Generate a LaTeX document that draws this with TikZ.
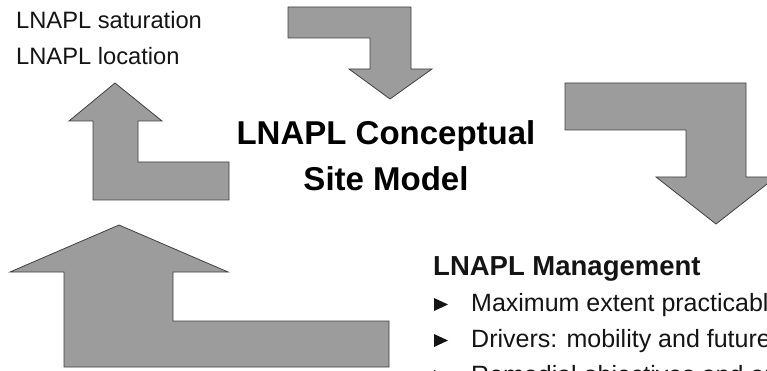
\documentclass[tikz,border=0pt]{standalone}
\usepackage{fontspec}
\setmainfont{Liberation Sans}

\begin{document}
\begin{tikzpicture}[x=1pt,y=-1pt,
	bent/.style={fill=black!39,draw=black!75,line width=0.8pt,line join=miter},
	lbl/.style={anchor=base west,inner sep=0pt,text=black!92},
	ttl/.style={anchor=base,inner sep=0pt,text=black,font=\bfseries\fontsize{33}{33}\selectfont}]
	\useasboundingbox (0,0) rectangle (767,371);
	\clip (0,0) rectangle (767,371);
	% the four bent arrows
	\draw[bent] (115,83) -- (162,121) -- (138,121) -- (138,162) -- (229,162) -- (229,200) -- (93,200) -- (93,121) -- (69,121) -- cycle;
	\draw[bent] (288,7) -- (411,7) -- (411,69) -- (432,69) -- (390,99) -- (349,69) -- (370,69) -- (370,38) -- (288,38) -- cycle;
	\draw[bent] (565,83) -- (746,83) -- (746,177) -- (776,177) -- (716,224) -- (656,177) -- (686,177) -- (686,130) -- (565,130) -- cycle;
	\draw[bent] (119,225) -- (228,272) -- (173,272) -- (173,321) -- (389,321) -- (389,367) -- (64,367) -- (64,272) -- (10,272) -- cycle;

	\node[lbl,font=\fontsize{23.7}{24}\selectfont] (satur) at (16,29) {LNAPL saturation};
	\node[lbl,font=\fontsize{23.7}{24}\selectfont] (locat) at (16,65) {LNAPL location};

	\node[ttl] (csm1) at (386,145) {LNAPL Conceptual};
	\node[ttl] (csm2) at (386,191) {Site Model};

	\node[lbl,font=\bfseries\fontsize{27.5}{28}\selectfont] (mgmt) at (433,275) {LNAPL Management};
	\foreach \t [count=\i, evaluate=\i as \yb using 275+36*\i] in {Maximum extent practicable,{Drivers: mobility and future},Remedial objectives and end} {
		\fill[black!92] (434,{\yb-13}) -- (448,{\yb-6.5}) -- (434,\yb) -- cycle;
		\node[lbl,font=\fontsize{25}{25}\selectfont] (item\i) at (471,\yb) {\t};
	}
\end{tikzpicture}
\end{document}
